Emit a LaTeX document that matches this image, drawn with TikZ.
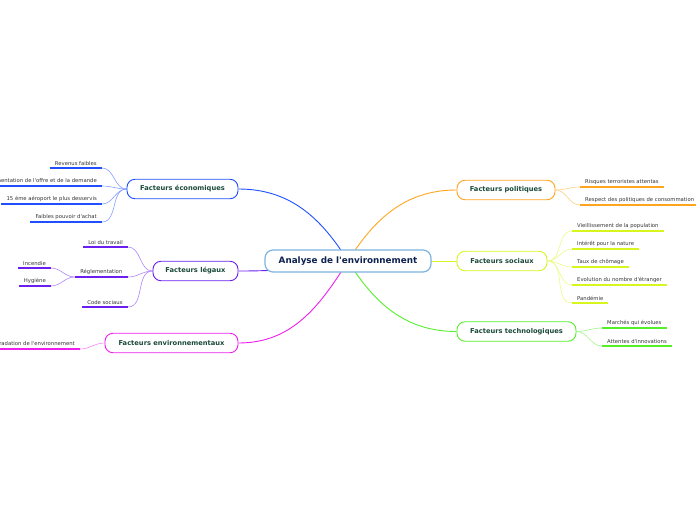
\documentclass[tikz,border=0pt]{standalone}
\usepackage{fontspec}
\setmainfont{DejaVu Sans}
\usetikzlibrary{positioning, backgrounds}
\definecolor{rootLine}{HTML}{7DB4E0}
\definecolor{rootText}{HTML}{0E2250}
\definecolor{mainText}{HTML}{1B4A3A}
\definecolor{leafText}{HTML}{333333}
\definecolor{ecoBlue}{HTML}{1F4FFF}
\definecolor{legPurple}{HTML}{6A1FF0}
\definecolor{envMagenta}{HTML}{EE1FEE}
\definecolor{polOrange}{HTML}{FFA51F}
\definecolor{socYellow}{HTML}{D8F51F}
\definecolor{tecGreen}{HTML}{55EE2A}
\newcommand\apos{\textquotesingle}
\tikzset{
  rootBox/.style={rectangle, rounded corners=8pt, draw=rootLine, line width=1.2pt,
                  fill=white, text=rootText, font=\bfseries\fontsize{8.8}{10}\selectfont,
                  minimum width=166pt, minimum height=22pt, inner sep=2pt},
  mainBox/.style={rectangle, rounded corners=8pt, draw=#1, line width=0.9pt,
                  fill=white, text=mainText, font=\bfseries\fontsize{6.7}{8}\selectfont,
                  minimum height=19.5pt, inner xsep=11pt, inner ysep=2pt},
  leaf/.style={text=leafText, font=\fontsize{5.3}{6}\selectfont,
               inner xsep=5pt, inner ysep=2pt,
               append after command={(\tikzlastnode.south west)
                 edge[draw=#1, line width=1.5pt] (\tikzlastnode.south east)}},
  branch/.style={draw=#1, line width=0.9pt},
  twig/.style={draw=#1!55, line width=0.6pt},
}
\begin{document}
\begin{tikzpicture}[x=1pt, y=-1pt]
    \useasboundingbox (0,0) rectangle (696,520);

    % racine
    \node[rootBox] (root) at (348,261) {Analyse de l\apos environnement};

    % branches principales
    \node[mainBox=ecoBlue, minimum width=111pt] (eco) at (182.5,189) {Facteurs économiques};
    \node[mainBox=legPurple, minimum width=85pt] (leg) at (195.5,271) {Facteurs légaux};
    \node[mainBox=envMagenta, minimum width=133pt] (env) at (171.5,343) {Facteurs environnementaux};
    \node[mainBox=polOrange, minimum width=98pt] (pol) at (506,190) {Facteurs politiques};
    \node[mainBox=socYellow, minimum width=90pt] (soc) at (502,261) {Facteurs sociaux};
    \node[mainBox=tecGreen, minimum width=119pt] (tec) at (516.5,331.5) {Facteurs technologiques};

    % feuilles economiques
    \node[leaf=ecoBlue, anchor=south east, minimum width=52pt, align=right] (eco1) at (102,168) {Revenus faibles};
    \node[leaf=ecoBlue, anchor=south east] (eco2) at (102,186) {Augmentation de l\apos offre et de la demande};
    \node[leaf=ecoBlue, anchor=south east] (eco3) at (102,204) {15 ème aéroport le plus desservis};
    \node[leaf=ecoBlue, anchor=south east] (eco4) at (102,222) {Faibles pouvoir d\apos achat};

    % feuilles legales
    \node[leaf=legPurple, anchor=south east] (leg1) at (128,247) {Loi du travail};
    \node[leaf=legPurple, anchor=south east, minimum width=53pt] (leg2) at (128,277) {Réglementation};
    \node[leaf=legPurple, anchor=south east] (leg21) at (51,268) {Incendie};
    \node[leaf=legPurple, anchor=south east] (leg22) at (51,286) {Hygiène};
    \node[leaf=legPurple, anchor=south east] (leg3) at (128,307) {Code sociaux};

    % feuille environnement
    \node[leaf=envMagenta, anchor=south east] (env1) at (80,349) {Dégradation de l\apos environnement};

    % feuilles politiques
    \node[leaf=polOrange, anchor=south west] (pol1) at (580,187) {Risques terroristes attentas};
    \node[leaf=polOrange, anchor=south west] (pol2) at (580,205) {Respect des politiques de consommation};

    % feuilles sociales
    \node[leaf=socYellow, anchor=south west] (soc1) at (572,231) {Vieillissement de la population};
    \node[leaf=socYellow, anchor=south west] (soc2) at (572,249) {Intérêt pour la nature};
    \node[leaf=socYellow, anchor=south west] (soc3) at (572,267) {Taux de chômage};
    \node[leaf=socYellow, anchor=south west] (soc4) at (572,285) {Evolution du nombre d\apos étranger};
    \node[leaf=socYellow, anchor=south west] (soc5) at (572,303) {Pandémie};

    % feuilles technologiques
    \node[leaf=tecGreen, anchor=south west] (tec1) at (602,328) {Marchés qui évolues};
    \node[leaf=tecGreen, anchor=south west] (tec2) at (602,346) {Attentes d\apos innovations};

    \begin{scope}[on background layer]
      % racine -> branches
      \draw[branch=ecoBlue] (eco.east) to[out=0, in=122] (root.center);
      \draw[branch=legPurple] (leg.east) to[out=0, in=190] (root.center);
      \draw[branch=envMagenta] (env.east) to[out=0, in=238] (root.center);
      \draw[branch=polOrange] (pol.west) to[out=180, in=58] (root.center);
      \draw[branch=socYellow] (soc.west) -- (root.center);
      \draw[branch=tecGreen] (tec.west) to[out=180, in=302] (root.center);

      % branches -> feuilles
      \foreach \f in {eco1, eco2, eco3, eco4}
        \draw[twig=ecoBlue] (eco.west) to[out=180, in=0] (\f.south east);
      \foreach \f in {leg1, leg2, leg3}
        \draw[twig=legPurple] (leg.west) to[out=180, in=0] (\f.south east);
      \foreach \f in {leg21, leg22}
        \draw[twig=legPurple] (leg2.south west) to[out=180, in=0] (\f.south east);
      \draw[twig=envMagenta] (env.west) to[out=180, in=0] (env1.south east);
      \foreach \f in {pol1, pol2}
        \draw[twig=polOrange] (pol.east) to[out=0, in=180] (\f.south west);
      \foreach \f in {soc1, soc2, soc3, soc4, soc5}
        \draw[twig=socYellow] (soc.east) to[out=0, in=180] (\f.south west);
      \foreach \f in {tec1, tec2}
        \draw[twig=tecGreen] (tec.east) to[out=0, in=180] (\f.south west);
    \end{scope}
  \end{tikzpicture}
\end{document}
